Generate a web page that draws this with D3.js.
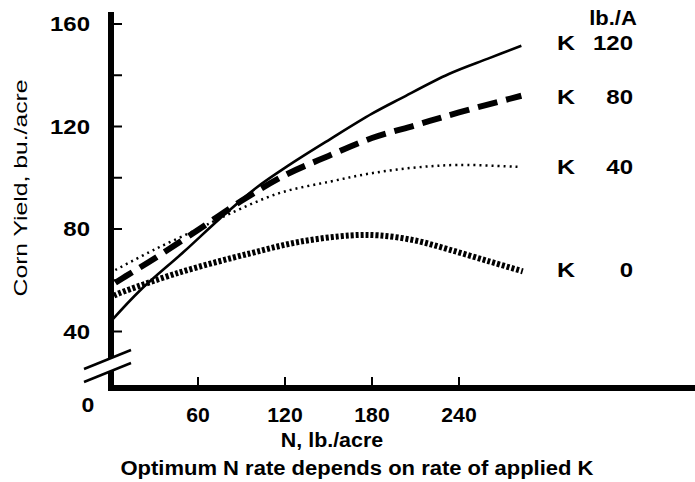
<!DOCTYPE html>
<html><head><meta charset="utf-8">
<script src="https://cdn.jsdelivr.net/npm/d3@7/dist/d3.min.js"></script>
<style>body{margin:0;background:#fff}svg{display:block}</style>
</head><body><svg id="c" width="695" height="482"></svg>
<script>
const xTicks = [60, 120, 180, 240];
const yTicks = [40, 60, 80, 100, 120, 140, 160];
const yTickLabels = [40, 80, 120, 160];
const seriesNames = ["K 120", "K 80", "K 40", "K 0"];
const seriesRates = ["120", "80", "40", "0"];
const nRates120 = [0, 20, 50, 75, 100, 123, 151, 180, 200, 233, 260, 283];
const k120 = [44, 56, 71, 84, 96, 105, 115, 125, 131, 140.5, 146.5, 151.5];
const nRates80 = [3, 10, 30, 61, 90, 120, 150, 180, 210, 240, 283];
const k80 = [59, 61.5, 68.5, 80, 91, 101, 108.5, 115.5, 120.5, 125.5, 132];
const nRates40 = [3, 30, 60, 82, 116, 151, 180, 210, 240, 283];
const k40 = [64, 72, 80, 86, 94, 98.5, 101.8, 104, 105, 104.2];
const nRates0 = [2, 6, 47, 96, 130, 165, 185, 210, 233, 260, 284];
const k0 = [54, 55, 63, 70.5, 75, 77.5, 77.5, 75.5, 72, 67.5, 63.5];

const svg = d3.select("#c");
const x = d3.scaleLinear().domain([0, 240]).range([111, 459]);
const y = d3.scaleLinear().domain([40, 160]).range([331.5, 24]);
const xAxisY = 388;
const font = "'Liberation Sans', Arial, sans-serif";

function stretch(sel, k) {
  sel.each(function() {
    const w = this.getComputedTextLength();
    d3.select(this).attr("textLength", w * k).attr("lengthAdjust", "spacingAndGlyphs");
  });
}

// axes
svg.append("line").attr("x1", x(0)-3).attr("x2", 695).attr("y1", xAxisY).attr("y2", xAxisY)
  .attr("stroke", "#000").attr("stroke-width", 6);
svg.append("line").attr("x1", x(0)).attr("x2", x(0)).attr("y1", 12).attr("y2", xAxisY)
  .attr("stroke", "#000").attr("stroke-width", 6);

// y ticks
svg.selectAll(".yt").data(yTicks).join("line")
  .attr("x1", x(0)).attr("x2", x(0)+11).attr("y1", d=>y(d)).attr("y2", d=>y(d))
  .attr("stroke", "#000").attr("stroke-width", 2);
const yl = svg.selectAll(".yl").data(yTickLabels).join("text")
  .attr("x", 90).attr("y", d=>y(d)).attr("dy", "0.36em").attr("text-anchor", "end")
  .attr("font-family", font).attr("font-weight", "bold").attr("font-size", 20).text(d=>d);
stretch(yl, 1.2);
stretch(svg.append("text").attr("x", 88).attr("y", 405).attr("dy", "0.36em").attr("text-anchor", "middle")
  .attr("font-family", font).attr("font-weight", "bold").attr("font-size", 20).text("0"), 1.15);

// x ticks
svg.selectAll(".xt").data(xTicks).join("line")
  .attr("x1", d=>x(d)).attr("x2", d=>x(d)).attr("y1", xAxisY).attr("y2", xAxisY-11)
  .attr("stroke", "#000").attr("stroke-width", 2);
const xl = svg.selectAll(".xl").data(xTicks).join("text")
  .attr("x", d=>x(d)).attr("y", 415).attr("dy", "0.36em").attr("text-anchor", "middle")
  .attr("font-family", font).attr("font-weight", "bold").attr("font-size", 20).text(d=>d);
stretch(xl, 1.06);

// axis break
svg.append("path").attr("d", "M84,369 L131,350 L131,363 L84,382 Z").attr("fill", "#fff");
svg.append("line").attr("x1", 84).attr("y1", 369).attr("x2", 131).attr("y2", 350)
  .attr("stroke", "#000").attr("stroke-width", 2.5);
svg.append("line").attr("x1", 84).attr("y1", 382).attr("x2", 131).attr("y2", 363)
  .attr("stroke", "#000").attr("stroke-width", 2.5);

// titles
stretch(svg.append("text").attr("transform", "translate(29,188) rotate(-90)").attr("text-anchor", "middle")
  .attr("dy", "-0.1em")
  .attr("font-family", font).attr("font-size", 19).text("Corn Yield, bu./acre"), 1.3);
stretch(svg.append("text").attr("x", 332).attr("y", 440).attr("dy", "0.36em").attr("text-anchor", "middle")
  .attr("font-family", font).attr("font-weight", "bold").attr("font-size", 20).text("N, lb./acre"), 1.07);
stretch(svg.append("text").attr("x", 357).attr("y", 468).attr("dy", "0.36em").attr("text-anchor", "middle")
  .attr("font-family", font).attr("font-weight", "bold").attr("font-size", 20)
  .text("Optimum N rate depends on rate of applied K"), 1.1);

// curves
const line = d3.line().x(d=>x(d[0])).y(d=>y(d[1])).curve(d3.curveCatmullRom.alpha(0.5));
const series = [
  {n: nRates0, v: k0, w: 6, dash: "3,2"},
  {n: nRates40, v: k40, w: 2.5, dash: "2,4"},
  {n: nRates120, v: k120, w: 2.6, dash: null},
  {n: nRates80, v: k80, w: 6, dash: "20,9"}
];
series.forEach(s => {
  const pts = s.n.map((n,i)=>[n, s.v[i]]);
  svg.append("path").attr("d", line(pts)).attr("fill", "none").attr("stroke", "#000")
    .attr("stroke-width", s.w).attr("stroke-dasharray", s.dash);
});

// legend
const legY = [43, 97, 167, 270];
stretch(svg.append("text").attr("x", 613).attr("y", 18).attr("dy", "0.36em").attr("text-anchor", "middle")
  .attr("font-family", font).attr("font-weight", "bold").attr("font-size", 20).text("lb./A"), 1.1);
stretch(svg.selectAll(".lk").data(seriesNames).join("text")
  .attr("x", 557).attr("y", (d,i)=>legY[i]).attr("dy", "0.36em")
  .attr("font-family", font).attr("font-weight", "bold").attr("font-size", 20).text(d=>d.split(" ")[0]), 1.25);
stretch(svg.selectAll(".lr").data(seriesRates).join("text")
  .attr("x", 633).attr("y", (d,i)=>legY[i]).attr("dy", "0.36em").attr("text-anchor", "end")
  .attr("font-family", font).attr("font-weight", "bold").attr("font-size", 20).text(d=>d), 1.2);
</script></body></html>
